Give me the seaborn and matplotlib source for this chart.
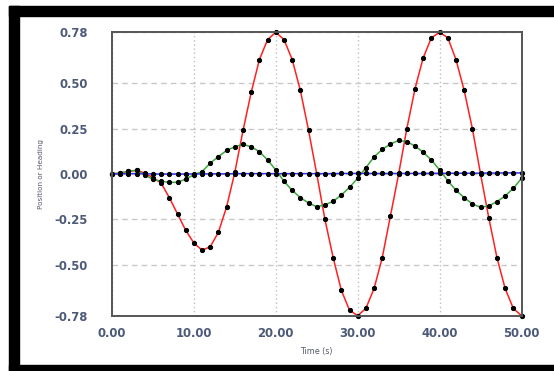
import matplotlib
matplotlib.use("Agg")
from matplotlib import pyplot as plt
from matplotlib.patches import Rectangle
import pandas as pd
import seaborn as sns

# sample times (s)
time_s = [0, 1, 2, 3, 4, 5, 6, 7, 8, 9,
          10, 11, 12, 13, 14, 15, 16, 17, 18, 19,
          20, 21, 22, 23, 24, 25, 26, 27, 28, 29,
          30, 31, 32, 33, 34, 35, 36, 37, 38, 39,
          40, 41, 42, 43, 44, 45, 46, 47, 48, 49, 50]

# red trace (position)
red_vals = [0.0, 0.005, 0.015, 0.02, 0.005, -0.02, -0.05, -0.13, -0.22, -0.31,
            -0.38, -0.42, -0.40, -0.32, -0.18, 0.01, 0.24, 0.45, 0.63, 0.74,
            0.78, 0.74, 0.63, 0.46, 0.24, 0.0, -0.25, -0.46, -0.64, -0.75,
            -0.78, -0.74, -0.63, -0.46, -0.23, 0.0, 0.25, 0.47, 0.64, 0.75,
            0.78, 0.75, 0.63, 0.46, 0.25, 0.0, -0.24, -0.46, -0.63, -0.74, -0.78]

# green trace
green_vals = [0.0, 0.005, 0.015, 0.02, -0.005, -0.03, -0.04, -0.046, -0.046, -0.028,
              -0.004, 0.013, 0.06, 0.096, 0.13, 0.15, 0.163, 0.15, 0.123, 0.077,
              0.022, -0.04, -0.09, -0.13, -0.16, -0.18, -0.17, -0.15, -0.116, -0.073,
              -0.024, 0.035, 0.094, 0.136, 0.165, 0.185, 0.178, 0.154, 0.12, 0.077,
              0.022, -0.037, -0.09, -0.13, -0.165, -0.183, -0.176, -0.152, -0.121, -0.079, -0.024]

# blue trace (heading), stays near zero
blue_vals = [0.0, 0.001, 0.002, 0.002, 0.001, 0.0, 0.0, 0.0, 0.0, 0.0,
             0.0, 0.0, 0.001, 0.001, 0.001, 0.002, 0.002, 0.002, 0.002, 0.002,
             0.002, 0.002, 0.002, 0.002, 0.002, 0.002, 0.002, 0.002, 0.003, 0.003,
             0.003, 0.003, 0.003, 0.003, 0.003, 0.003, 0.003, 0.003, 0.003, 0.004,
             0.004, 0.004, 0.004, 0.004, 0.004, 0.005, 0.005, 0.005, 0.006, 0.006, 0.006]

series = {"red": red_vals, "green": green_vals, "blue": blue_vals}
line_colors = {"red": "#ff2020", "green": "#3aa83a", "blue": "#3030ff"}

x_ticks = [0, 10, 20, 30, 40, 50]
y_ticks = [-0.78, -0.50, -0.25, 0.0, 0.25, 0.50, 0.78]

sns.set_style("white")
plt.rcParams["font.family"] = ["DejaVu Sans"]

fig = plt.figure(figsize=(5.54, 3.71), dpi=100)
ax = fig.add_axes([112 / 554, 1 - 315.7 / 371, (521.5 - 112) / 554, (315.7 - 32.3) / 371])

# black picture frame
W, H = 554, 371
for (x0, y0, w, h) in [(9, 6, 545, 10), (9, 6, 10, 365), (9, 365, 545, 6)]:
    fig.patches.append(Rectangle((x0 / W, 1 - (y0 + h) / H), w / W, h / H,
                                 transform=fig.transFigure, color="black", zorder=0))

for name, vals in series.items():
    df = pd.DataFrame({"t": time_s, "v": vals})
    sns.lineplot(data=df, x="t", y="v", ax=ax, color=line_colors[name], linewidth=1.1,
                 marker="o", markersize=3.0, markerfacecolor="black",
                 markeredgecolor="black", estimator=None, sort=False, clip_on=False)

ax.set_xlim(0, 50)
ax.set_ylim(-0.78, 0.78)
ax.set_xticks(x_ticks)
ax.set_xticklabels([f"{v:.2f}" for v in x_ticks])
ax.set_yticks(y_ticks)
ax.set_yticklabels([f"{v:.2f}" for v in y_ticks])

ax.yaxis.grid(True, color="#c8c8c8", linestyle=(0, (4, 3)), linewidth=1.0)
ax.xaxis.grid(True, color="#c0c0c0", linestyle=(0, (1, 2)), linewidth=1.0)
ax.set_axisbelow(True)

tick_color = "#4c5a78"
ax.tick_params(axis="y", direction="out", length=8.6, width=1, color="#c8c8c8",
               pad=8.6, labelsize=8.4, labelcolor=tick_color)
ax.tick_params(axis="x", direction="out", length=4, width=1, color="#bdbdbd",
               pad=4, labelsize=8.4, labelcolor=tick_color)
for lab in ax.get_xticklabels() + ax.get_yticklabels():
    lab.set_fontweight("bold")

for sp in ax.spines.values():
    sp.set_color("#555555")
    sp.set_linewidth(1.4)

ax.set_xlabel("Time (s)", fontsize=5.8, color="#555a66", labelpad=5)
ax.set_ylabel("Position or Heading", fontsize=5.2, color="#555a66", labelpad=8)

fig.savefig("out.png", dpi=100)
